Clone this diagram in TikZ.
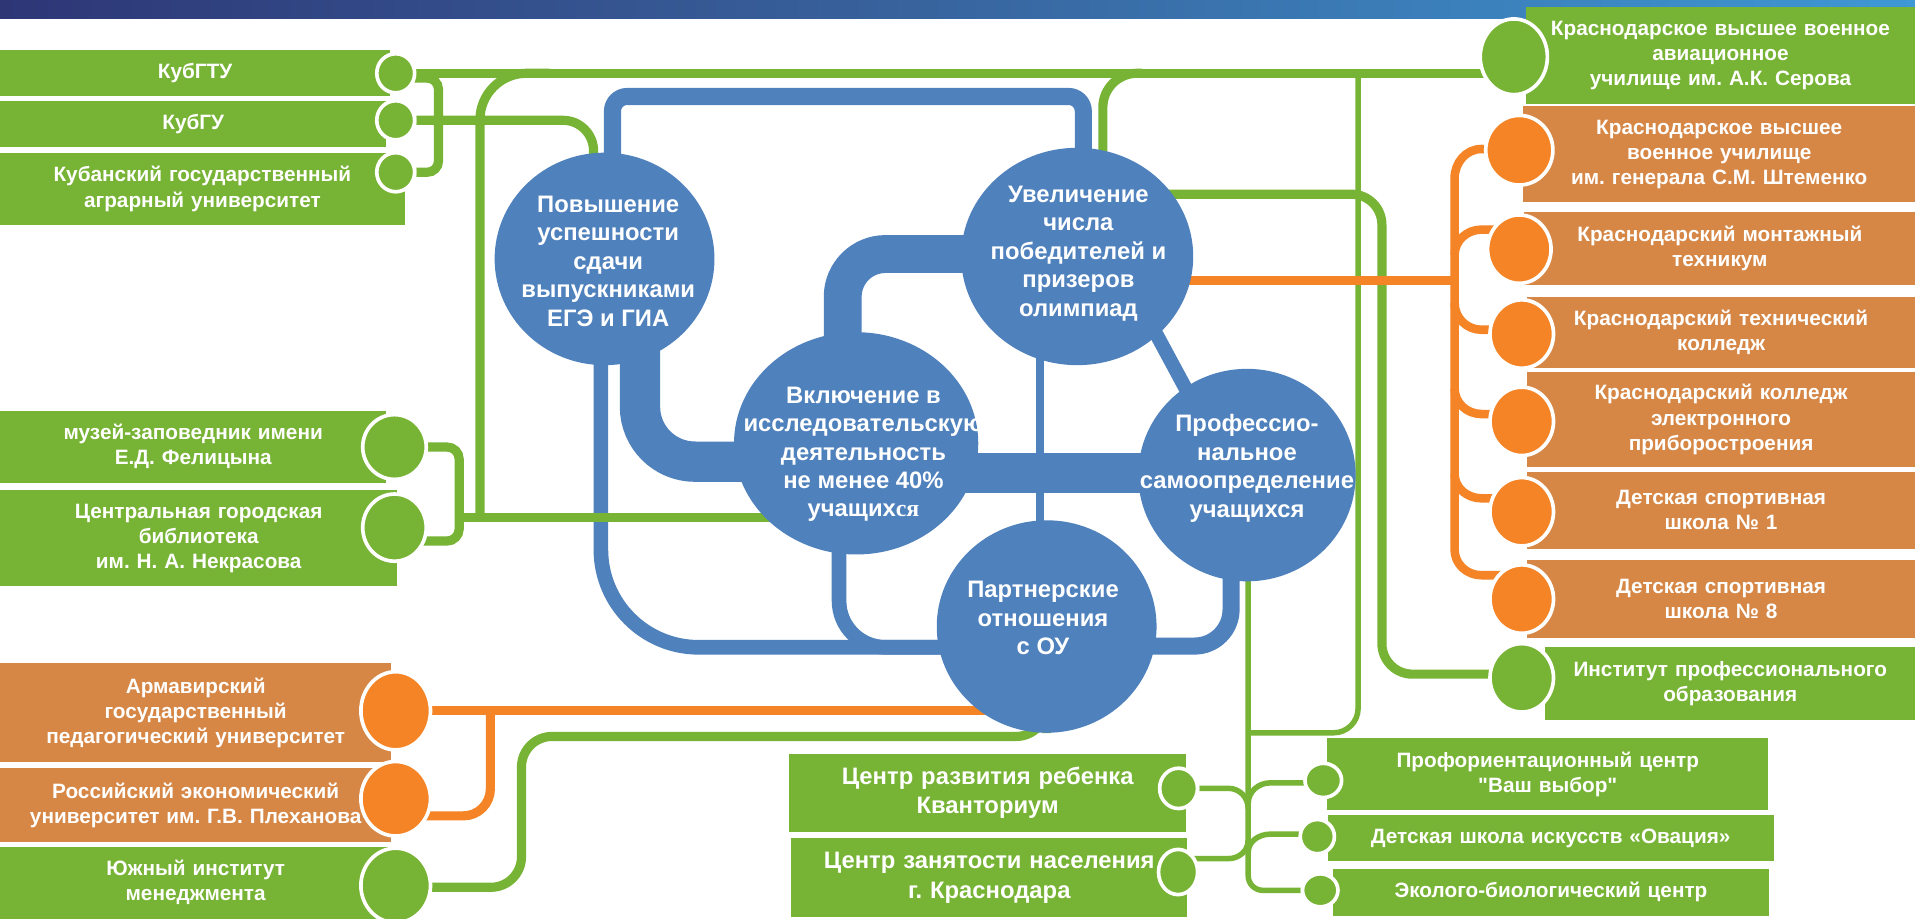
\documentclass[tikz,border=0pt]{standalone}
\usepackage{fontspec}
\setmainfont{Liberation Sans}[Ligatures=TeXOff]
\newfontfamily\serifpart{Liberation Serif}
\usetikzlibrary{shapes.geometric}
\definecolor{leafgreen}{RGB}{119,179,52}
\definecolor{clayorange}{RGB}{214,135,70}
\definecolor{brightorange}{RGB}{245,132,38}
\definecolor{goalblue}{RGB}{79,129,189}
\definecolor{navytop}{RGB}{46,54,118}
\definecolor{midtop}{RGB}{56,100,158}
\definecolor{skytop}{RGB}{62,152,212}
\pgfdeclarelayer{bg}
\pgfsetlayers{bg,main}

\begin{document}
\frenchspacing
\begin{tikzpicture}[x=1pt, y=-1pt,
    infobox/.style={rectangle, anchor=north west, inner sep=0pt, align=center, text=white,
        font=\bfseries\fontsize{17}{20.5}\selectfont},
    greenbox/.style={infobox, fill=leafgreen, text width=#1pt},
    claybox/.style={infobox, fill=clayorange, text width=#1pt},
    bead/.style={ellipse, draw=white, line width=3pt, inner sep=0pt},
    greendot/.style={bead, fill=leafgreen},
    orangedot/.style={bead, fill=brightorange},
    goal/.style={ellipse, fill=goalblue, inner sep=0pt},
    goaltext/.style={align=center, text=white, font=\bfseries\fontsize{19.5}{23.3}\selectfont},
    greenline/.style={draw=leafgreen, line width=7.5pt},
    greenthin/.style={draw=leafgreen, line width=4.5pt},
    orangeline/.style={draw=brightorange, line width=7.5pt},
    blueline/.style={draw=goalblue}]

    \useasboundingbox (0,0) rectangle (1568,752);

    % Header band
    \shade[left color=navytop, right color=midtop] (0,0) rectangle (760,15.5);
    \shade[left color=midtop, right color=skytop] (760,0) rectangle (1568,15.5);

    % Partners, left
    \node[greenbox=319, minimum height=37.6pt] (kubgtu) at (0,41) {КубГТУ};
    \node[greenbox=316, minimum height=37.6pt] (kubgu) at (0,82.4) {КубГУ};
    \node[greenbox=331, minimum height=59pt] (kubgau) at (0,125) {Кубанский государственный\\аграрный университет};
    \node[greenbox=316, minimum height=59pt] (muzey) at (0,336) {музей-заповедник имени\\Е.Д. Фелицына};
    \node[greenbox=325, minimum height=79pt] (biblio) at (0,401) {Центральная городская\\библиотека\\им. Н. А. Некрасова};
    \node[claybox=320, minimum height=81pt] (armavir) at (0,543) {Армавирский\\государственный\\педагогический университет};
    \node[claybox=320, minimum height=60pt] (plehanov) at (0,629) {Российский экономический\\университет им. Г.В. Плеханова};
    \node[greenbox=320, minimum height=59pt] (yuzhny) at (0,693) {Южный институт\\менеджмента};

    % Partners, right
    \node[greenbox=319, minimum height=79.5pt] (serov) at (1249,5.5) {Краснодарское высшее военное\\авиационное\\училище им. А.К. Серова};
    \node[claybox=321, minimum height=78pt] (shtem) at (1247,87) {Краснодарское высшее\\военное училище\\им. генерала С.М. Штеменко};
    \node[claybox=320, minimum height=60pt] (montazh) at (1248,173) {Краснодарский монтажный\\техникум};
    \node[claybox=318, minimum height=58pt] (teh) at (1250,243) {Краснодарский технический\\колледж};
    \node[claybox=318, minimum height=77.5pt] (elec) at (1250,304.5) {Краснодарский колледж\\электронного\\приборостроения};
    \node[claybox=318, minimum height=63pt] (sport1) at (1250,386) {Детская спортивная\\школа № 1};
    \node[claybox=318, minimum height=63.5pt] (sport8) at (1250,458.5) {Детская спортивная\\школа № 8};
    \node[greenbox=303, minimum height=60pt] (institut) at (1265,529.5) {Институт профессионального\\образования};

    % Partners, bottom
    \node[greenbox=325, minimum height=64pt, font=\bfseries\fontsize{19.5}{24}\selectfont] (kvant) at (646,617) {Центр развития ребенка\\Кванториум};
    \node[greenbox=324.4, minimum height=65pt, font=\bfseries\fontsize{19.5}{24}\selectfont] (zanyat) at (647.6,686) {Центр занятости населения\\г. Краснодара};
    \node[greenbox=361, minimum height=59pt] (vybor) at (1086.6,604) {Профориентационный центр\\"Ваш выбор"};
    \node[greenbox=365, minimum height=38pt] (ovats) at (1087,667) {Детская школа искусств «Овация»};
    \node[greenbox=356.5, minimum height=39pt] (eco) at (1091.5,711) {Эколого-биологический центр};

    % Beads
    \node[greendot, minimum width=31pt, minimum height=32pt] (kubgtuDot) at (324,60) {};
    \node[greendot, minimum width=31pt, minimum height=32pt] (kubguDot) at (324,98.5) {};
    \node[greendot, minimum width=31pt, minimum height=32pt] (kubgauDot) at (324,141) {};
    \node[greendot, minimum width=52pt, minimum height=53pt] (muzeyDot) at (323,366) {};
    \node[greendot, minimum width=52pt, minimum height=55pt] (biblioDot) at (323,432) {};
    \node[orangedot, minimum width=57pt, minimum height=64pt] (armavirDot) at (324,582) {};
    \node[orangedot, minimum width=57pt, minimum height=61pt] (plehanovDot) at (324,654) {};
    \node[greendot, minimum width=57pt, minimum height=61pt] (yuzhnyDot) at (324,725) {};
    \node[greendot, minimum width=55pt, minimum height=62pt] (serovDot) at (1239.5,46.5) {};
    \node[orangedot, minimum width=55pt, minimum height=57pt] (shtemDot) at (1244,123) {};
    \node[orangedot, minimum width=52pt, minimum height=56pt] (montazhDot) at (1244,204) {};
    \node[orangedot, minimum width=52pt, minimum height=56pt] (tehDot) at (1246,273.5) {};
    \node[orangedot, minimum width=52pt, minimum height=56pt] (elecDot) at (1246,345) {};
    \node[orangedot, minimum width=52pt, minimum height=56pt] (sport1Dot) at (1246,419) {};
    \node[orangedot, minimum width=52pt, minimum height=56pt] (sport8Dot) at (1246,490.5) {};
    \node[greendot, minimum width=52pt, minimum height=56pt] (institutDot) at (1246,555) {};
    \node[greendot, minimum width=31pt, minimum height=33pt] (kvantDot) at (965,645.5) {};
    \node[greendot, minimum width=32pt, minimum height=37pt] (zanyatDot) at (964.6,714) {};
    \node[greendot, minimum width=30pt, minimum height=28pt] (vyborDot) at (1083.5,639) {};
    \node[greendot, minimum width=28pt, minimum height=28pt] (ovatsDot) at (1078.6,685) {};
    \node[greendot, minimum width=29pt, minimum height=27pt] (ecoDot) at (1081,729) {};

    % Goals
    \node[goal, minimum width=180pt, minimum height=174pt] (goal1) at (495,212) {};
    \node[goal, minimum width=190pt, minimum height=178pt] (goal2) at (882,210) {};
    \node[goal, minimum width=200pt, minimum height=182pt] (goal3) at (701,363) {};
    \node[goal, minimum width=178pt, minimum height=174pt] (goal4) at (1021,389) {};
    \node[goal, minimum width=180pt, minimum height=174pt] (goal5) at (857,513) {};
    \node[goaltext] (goal1txt) at (498,214) {Повышение\\успешности\\сдачи\\выпускниками\\ЕГЭ и ГИА};
    \node[goaltext] (goal2txt) at (883,207.5) {Увеличение\\числа\\победителей и\\призеров\\олимпиад};
    \node[goaltext] (goal3txt) at (707,372) {Включение в\\исследовательскую\\деятельность\\не менее 40\%\\учащих{\serifpart ся}};
    \node[goaltext] (goal4txt) at (1021,383.5) {Профессио-\\нальное\\самоопределение\\учащихся};
    \node[goaltext] (goal5txt) at (854,506) {Партнерские\\отношения\\с ОУ};

    \coordinate (libJoin) at (393,424);
    \coordinate (orangeJoin) at (1191,230);

    \begin{pgfonlayer}{bg}
    \fill[white] (0,0) rectangle (1568,752);

    % Links between goals
    \draw[blueline, line width=14pt, rounded corners=12pt] (goal1 -| 501.5,0) |- (887,79) -- (goal2 -| 887,0);
    \draw[blueline, line width=33pt, rounded corners=45pt] (goal1 -| 524,0) |- (goal3 |- 0,378);
    \draw[blueline, line width=31pt, rounded corners=35pt] (goal3 -| 690,0) |- (goal2 |- 0,208);
    \draw[blueline, line width=33pt] (goal3 |- 0,387.5) -- (goal4 |- 0,387.5);
    \draw[blueline, line width=7pt] (goal2 -| 851.5,0) -- (goal5 -| 851.5,0);
    \draw[blueline, line width=11.5pt] (goal2 -| 912.5,0) -- (goal4 -| 1009,0);
    \draw[blueline, line width=12pt, rounded corners=80pt] (goal1 -| 492,0) |- (goal5 |- 0,530);
    \draw[blueline, line width=12pt, rounded corners=38pt] (goal3 -| 687,0) |- (goal5 |- 0,530);
    \draw[blueline, line width=14pt, rounded corners=30pt] (goal5 |- 0,529) -| (goal4 -| 1008,0);

    % Green partners
    \draw[greenline] (kubgtuDot) -- (kubgtuDot -| serovDot);
    \draw[greenline, rounded corners=9pt] (kubgtuDot |- 0,64) -| (359,141) -- (kubgauDot);
    \draw[greenline, rounded corners=25pt] (kubguDot) -| (goal1 -| 486,0);
    \draw[greenline, rounded corners=38pt] (kubgtuDot -| 450,0) -| (libJoin);
    \draw[greenline, rounded corners=10pt] (muzeyDot) -| (376,443) -- (biblioDot |- 0,443);
    \draw[greenline] (libJoin -| 376,0) -- (goal3 |- libJoin);
    \draw[greenline, rounded corners=25pt] (yuzhnyDot |- 0,726.5) -| (427,603) -| (goal5);
    \draw[greenline, rounded corners=28pt] (kubgtuDot -| 935,0) -| (goal2 -| 903,0);
    \draw[greenline, rounded corners=25pt] (goal2 |- 0,159) -| (1131.5,552) -- (institutDot |- 0,552);
    \draw[greenthin, rounded corners=20pt] (kubgtuDot -| 1112,0) |- (goal4 |- 0,600);
    \draw[greenthin, rounded corners=12pt] (goal4 -| 1022,0) |- (ecoDot);
    \draw[greenthin] (kvantDot) -- (1006,645.5) to[out=0, in=90] (1022,662);
    \draw[greenthin] (zanyatDot |- 0,703) -- (1006,703) to[out=0, in=-90] (1022,688);
    \draw[greenthin] (1022,658) to[out=90, in=180] (1040,641) -- (vyborDot |- 0,641);
    \draw[greenthin] (1022,698) to[out=90, in=180] (1040,683) -- (ovatsDot |- 0,683);

    % Orange partners
    \draw[orangeline] (armavirDot) -- (armavirDot -| goal5);
    \draw[orangeline, rounded corners=22pt] (armavirDot -| 401.5,0) |- (plehanovDot |- 0,668);
    \draw[orangeline] (goal2 |- orangeJoin) -- (orangeJoin);
    \draw[orangeline, line width=7pt] (shtemDot) -- (1213,122) to[out=180, in=90] (1191,146) -- (1191,450)
        to[out=-90, in=180] (1213,471) -- (sport8Dot |- 0,471);
    \draw[orangeline, line width=7pt] (1191,209) to[out=90, in=180] (1213,188) -- (montazhDot |- 0,188);
    \draw[orangeline, line width=7pt] (1191,248) to[out=-90, in=180] (1213,270) -- (tehDot |- 0,270);
    \draw[orangeline, line width=7pt] (1191,318) to[out=-90, in=180] (1213,339) -- (elecDot |- 0,339);
    \draw[orangeline, line width=7pt] (1191,388) to[out=-90, in=180] (1213,408) -- (sport1Dot |- 0,408);
    \end{pgfonlayer}
\end{tikzpicture}
\end{document}
